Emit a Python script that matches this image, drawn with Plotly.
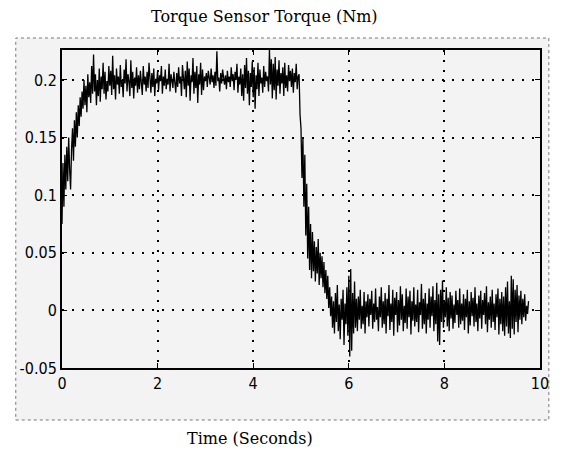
import numpy as np
import plotly.graph_objects as go

DT = 0.02  # sampling interval, seconds

# Rise (t = 0.00 .. 0.98)
rise = [0.075, 0.128, 0.090, 0.135, 0.105, 0.142, 0.112, 0.150, 0.122, 0.105,
        0.140, 0.158, 0.130, 0.165, 0.142, 0.172, 0.150, 0.178, 0.160, 0.185,
        0.168, 0.190, 0.175, 0.200, 0.178, 0.195, 0.172, 0.205, 0.185, 0.198,
        0.180, 0.212, 0.188, 0.222, 0.190, 0.205, 0.178, 0.200, 0.186, 0.210,
        0.181, 0.203, 0.192, 0.215, 0.188, 0.207, 0.183, 0.199, 0.190, 0.212]

# Plateau (t = 1.00 .. 4.94)
plateau = [0.195, 0.208, 0.187, 0.221, 0.192, 0.204, 0.183, 0.210, 0.196, 0.203,
           0.188, 0.213, 0.194, 0.200, 0.185, 0.209, 0.197, 0.218, 0.190, 0.205,
           0.199, 0.186, 0.217, 0.193, 0.207, 0.184, 0.202, 0.195, 0.211, 0.189,
           0.204, 0.192, 0.208, 0.198, 0.187, 0.212, 0.196, 0.203, 0.190, 0.207,
           0.193, 0.215, 0.198, 0.189, 0.206, 0.194, 0.210, 0.186, 0.201, 0.197,
           0.208, 0.191, 0.204, 0.199, 0.212, 0.188, 0.203, 0.195, 0.209, 0.192,
           0.201, 0.196, 0.214, 0.190, 0.205, 0.198, 0.193, 0.207, 0.200, 0.189,
           0.206, 0.194, 0.211, 0.197, 0.203, 0.186, 0.213, 0.199, 0.192, 0.208,
           0.185, 0.216, 0.195, 0.210, 0.182, 0.204, 0.198, 0.219, 0.188, 0.207,
           0.193, 0.212, 0.180, 0.205, 0.196, 0.215, 0.187, 0.209, 0.191, 0.203,
           0.199, 0.206, 0.194, 0.208, 0.201, 0.196, 0.210, 0.198, 0.204, 0.193,
           0.207, 0.195, 0.225, 0.199, 0.202, 0.190, 0.206, 0.197, 0.209, 0.200,
           0.196, 0.204, 0.192, 0.208, 0.198, 0.203, 0.194, 0.211, 0.199, 0.205,
           0.191, 0.207, 0.200, 0.214, 0.189, 0.203, 0.196, 0.210, 0.186, 0.205,
           0.182, 0.213, 0.193, 0.219, 0.188, 0.208, 0.178, 0.206, 0.194, 0.216,
           0.185, 0.211, 0.175, 0.204, 0.192, 0.215, 0.186, 0.209, 0.197, 0.202,
           0.189, 0.212, 0.194, 0.207, 0.199, 0.203, 0.190, 0.226, 0.196, 0.218,
           0.184, 0.214, 0.191, 0.220, 0.183, 0.209, 0.195, 0.217, 0.188, 0.206,
           0.197, 0.211, 0.186, 0.215, 0.193, 0.204, 0.190, 0.213, 0.199, 0.208,
           0.194, 0.210, 0.189, 0.206, 0.198, 0.214, 0.192, 0.203]

# Drop (t = 4.96 .. 5.60)
drop = [0.205, 0.170, 0.158, 0.115, 0.150, 0.090, 0.135, 0.065, 0.110, 0.045,
        0.090, 0.035, 0.075, 0.028, 0.068, 0.034, 0.060, 0.025, 0.055, 0.032,
        0.062, 0.022, 0.050, 0.028, 0.047, 0.020, 0.042, 0.015, 0.035, 0.010,
        0.030, 0.002, 0.020]

# Released (t = 5.62 .. 9.76)
released = [-0.005, 0.012, -0.015, 0.008, -0.020, 0.015, -0.010, 0.022, -0.018, 0.005,
            -0.025, 0.010, -0.008, 0.018, -0.030, 0.006, -0.012, 0.020, -0.022, 0.030,
            -0.040, 0.036, -0.035, 0.015, -0.020, 0.025, -0.015, 0.010, -0.018, 0.012,
            -0.008, 0.018, -0.016, 0.004, -0.012, 0.016, -0.020, 0.008, -0.006, 0.014,
            -0.014, 0.010, -0.004, 0.017, -0.016, 0.006, -0.010, 0.019, -0.008, 0.003,
            -0.018, 0.012, -0.006, 0.020, -0.015, 0.008, -0.012, 0.015, -0.020, 0.010,
            -0.005, 0.022, -0.017, 0.006, -0.010, 0.018, -0.022, 0.011, -0.004, 0.016,
            -0.019, 0.009, -0.013, 0.021, -0.008, 0.014, -0.018, 0.004, -0.011, 0.019,
            -0.016, 0.012, -0.006, 0.017, -0.021, 0.008, -0.009, 0.020, -0.014, 0.005,
            -0.010, 0.018, -0.019, 0.007, -0.004, 0.023, -0.016, 0.010, -0.012, 0.015,
            -0.020, 0.006, -0.008, 0.019, -0.015, 0.012, -0.005, 0.021, -0.018, 0.009,
            -0.012, 0.024, -0.027, 0.014, -0.030, 0.018, -0.010, 0.026, -0.015, 0.008,
            -0.006, 0.020, -0.014, 0.011, -0.018, 0.016, -0.007, 0.013, -0.016, 0.005,
            -0.011, 0.017, -0.004, 0.009, -0.015, 0.019, -0.012, 0.006, -0.009, 0.014,
            -0.017, 0.010, -0.006, 0.018, -0.020, 0.008, -0.013, 0.016, -0.005, 0.011,
            -0.014, 0.020, -0.010, 0.006, -0.018, 0.013, -0.007, 0.017, -0.016, 0.009,
            -0.004, 0.015, -0.012, 0.021, -0.019, 0.007, -0.008, 0.012, -0.015, 0.018,
            -0.010, 0.006, -0.017, 0.014, -0.006, 0.019, -0.021, 0.010, -0.012, 0.016,
            -0.018, 0.012, -0.022, 0.020, -0.014, 0.025, -0.020, 0.008, -0.024, 0.030,
            -0.016, 0.027, -0.021, 0.018, -0.010, 0.022, -0.019, 0.013, -0.008, 0.017,
            -0.012, 0.010, -0.006, 0.014, -0.009, 0.004, -0.003, 0.008]

torque = rise + plateau + drop + released
time = np.arange(len(torque)) * DT

x_ticks = [0, 2, 4, 6, 8, 10]
x_tick_labels = ["0", "2", "4", "6", "8", "10"]
y_ticks = [-0.05, 0, 0.05, 0.1, 0.15, 0.2]
y_tick_labels = ["-0.05", "0", "0.05", "0.1", "0.15", "0.2"]

title_text = "Torque Sensor Torque (Nm)"
xlabel_text = "Time (Seconds)"

fig = go.Figure()
fig.add_trace(go.Scatter(x=time, y=torque, mode="lines",
                         line=dict(color="black", width=1.3), showlegend=False,
                         hoverinfo="skip"))

tick_font = dict(family="DejaVu Sans Condensed, Liberation Sans Narrow, sans-serif",
                 size=16, color="black")
axis_common = dict(showline=True, linecolor="black", linewidth=2, mirror="ticks",
                   ticks="inside", ticklen=5, tickcolor="black", tickwidth=1,
                   showgrid=True, gridcolor="black", gridwidth=1.5,
                   griddash="2px,8px", zeroline=False, tickfont=tick_font)

fig.update_xaxes(range=[0, 10], tickvals=x_ticks, ticktext=x_tick_labels, **axis_common)
fig.update_yaxes(range=[-0.05, 0.226], tickvals=y_ticks, ticktext=y_tick_labels, **axis_common)

fig.update_layout(
    width=561, height=459,
    margin=dict(l=62, r=13, t=50, b=91),
    paper_bgcolor="white", plot_bgcolor="white",
    shapes=[dict(type="rect", xref="paper", yref="paper",
                 x0=(15 - 62) / 486, x1=(557 - 62) / 486,
                 y0=(368 - 420) / 318, y1=(368 - 38) / 318,
                 fillcolor="#f3f3f3", line=dict(color="#777777", width=1, dash="dot"),
                 layer="below")],
    annotations=[
        dict(text=title_text, xref="paper", yref="paper",
             x=(268 - 62) / 486, y=(368 - 17) / 318, showarrow=False,
             xanchor="center", yanchor="middle",
             font=dict(family="DejaVu Serif, serif", size=16, color="black")),
        dict(text=xlabel_text, xref="paper", yref="paper",
             x=(253 - 62) / 486, y=(368 - 438) / 318, showarrow=False,
             xanchor="center", yanchor="middle",
             font=dict(family="DejaVu Serif, serif", size=16, color="black")),
    ],
)

fig.write_html("out.html")
